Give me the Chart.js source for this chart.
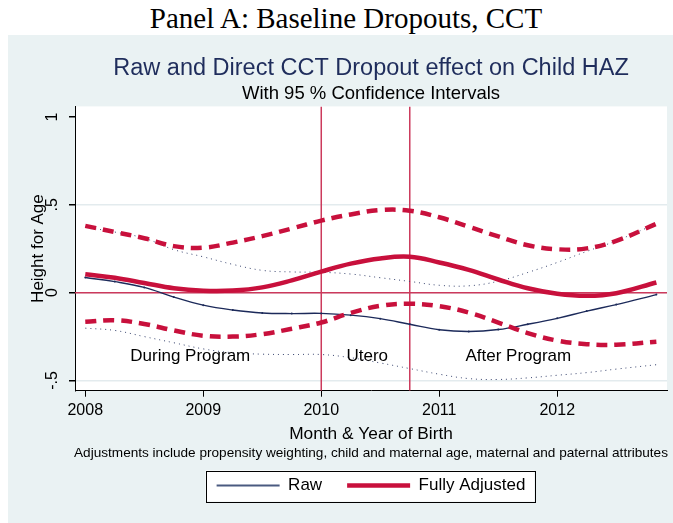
<!DOCTYPE html>
<html>
<head>
<meta charset="utf-8">
<script src="https://cdn.jsdelivr.net/npm/chart.js@4.4.1/dist/chart.umd.min.js"></script>
<style>
  html, body { margin: 0; padding: 0; background: #fff; overflow: hidden; width: 673px; height: 523px; }
  #panel { position: absolute; left: 0; top: 0; width: 692px; height: 35px; text-align: center;
           font-family: "Liberation Serif", "Times New Roman", serif; font-size: 29px; line-height: 36px; color: #000; }
  #bg { position: absolute; left: 8px; top: 35px; width: 665px; height: 488px; background: #eaf2f3; overflow: hidden; }
  #myChart { position: absolute; left: 0; top: 0; }
</style>
</head>
<body>
<div id="panel">Panel A: Baseline Dropouts, CCT</div>
<div id="bg"><canvas id="myChart" width="726" height="488"></canvas></div>
<script>
// month & year of birth (decimal years)
const birthDates = [2008, 2008.25, 2008.5, 2008.75, 2009, 2009.25, 2009.5, 2009.75, 2010, 2010.25,
                    2010.5, 2010.75, 2011, 2011.25, 2011.5, 2011.75, 2012, 2012.25, 2012.5, 2012.84];

const rawEffect = [0.086, 0.063, 0.03, -0.025, -0.071, -0.099, -0.116, -0.119, -0.118, -0.128,
                   -0.148, -0.18, -0.211, -0.221, -0.21, -0.18, -0.146, -0.105, -0.068, -0.011];
const rawUpper  = [0.373, 0.345, 0.31, 0.245, 0.204, 0.161, 0.127, 0.118, 0.116, 0.106,
                   0.085, 0.064, 0.042, 0.039, 0.065, 0.115, 0.172, 0.235, 0.295, 0.392];
const rawLower  = [-0.202, -0.215, -0.25, -0.285, -0.32, -0.342, -0.35, -0.352, -0.352, -0.37,
                   -0.4, -0.432, -0.464, -0.489, -0.494, -0.485, -0.47, -0.455, -0.435, -0.41];

const adjEffect = [0.105, 0.085, 0.055, 0.025, 0.011, 0.012, 0.03, 0.07, 0.12, 0.165,
                   0.195, 0.204, 0.172, 0.13, 0.075, 0.025, -0.006, -0.018, -0.003, 0.058];
const adjUpper  = [0.38, 0.345, 0.31, 0.265, 0.256, 0.285, 0.322, 0.365, 0.41, 0.445,
                   0.47, 0.466, 0.429, 0.375, 0.32, 0.27, 0.247, 0.252, 0.295, 0.392];
const adjLower  = [-0.166, -0.157, -0.178, -0.215, -0.245, -0.25, -0.236, -0.205, -0.17, -0.115,
                   -0.075, -0.063, -0.077, -0.113, -0.17, -0.23, -0.273, -0.293, -0.296, -0.279];

const xTicks = [2008, 2009, 2010, 2011, 2012];
const yTicks = [-0.5, 0, 0.5, 1];
const yTickLabels = ['-.5', '0', '.5', '1'];

// program start and end of utero window
const programLines = [2010, 2010.75];

const periodLabels = ['During Program', 'Utero', 'After Program'];
const periodX = [2008.89, 2010.39, 2011.67];
const periodY = -0.35;

const noteText = 'Adjustments include propensity weighting, child and maternal age, maternal and paternal attributes';

const xMin = 2007.913, xMax = 2012.93;
const yMin = -0.558, yMax = 1.06;

const FONT = '"Liberation Sans", Arial, Helvetica, sans-serif';
const RED = '#c8103c';
const REFRED = '#cc3a5c';
const NAVY = '#1c2a5a';

const pts = ys => birthDates.map((x, i) => ({ x: x, y: ys[i] }));

const datasets = [
  { label: 'Fully Adjusted', data: pts(adjEffect), borderColor: RED, borderWidth: 4.5 },
  { label: 'Adjusted upper', data: pts(adjUpper), borderColor: RED, borderWidth: 4.5, borderDash: [11, 7] },
  { label: 'Adjusted lower', data: pts(adjLower), borderColor: RED, borderWidth: 4.5, borderDash: [11, 7] },
  { label: 'Raw', data: pts(rawEffect), borderColor: NAVY, borderWidth: 1.4, pointRadius: 1, pointBackgroundColor: NAVY, pointBorderWidth: 0 },
  { label: 'Raw upper', data: pts(rawUpper), borderColor: '#3a4670', borderWidth: 1, borderDash: [1, 4] },
  { label: 'Raw lower', data: pts(rawLower), borderColor: '#3a4670', borderWidth: 1, borderDash: [1, 4] },
  { label: 'zero', data: [{ x: xMin, y: 0 }, { x: xMax, y: 0 }], borderColor: REFRED, borderWidth: 1.5, tension: 0 },
];
programLines.forEach(v => {
  datasets.push({ label: 'line ' + v, data: [{ x: v, y: yMin }, { x: v, y: yMax }], borderColor: REFRED, borderWidth: 1.5, tension: 0 });
});

const plotBg = {
  id: 'plotBg',
  beforeDraw(chart) {
    const { ctx, chartArea: a } = chart;
    ctx.save();
    ctx.fillStyle = '#fff';
    ctx.fillRect(a.left, a.top, a.right - a.left, a.bottom - a.top);
    // legend frame
    const hb = chart.legend.legendHitBoxes;
    if (hb && hb.length) {
      const l = Math.min(...hb.map(b => b.left)) - 11;
      const r = Math.max(...hb.map(b => b.left + b.width)) + 9;
      const cy = hb[0].top + hb[0].height / 2;
      ctx.fillRect(l, cy - 15, r - l, 31);
      ctx.strokeStyle = '#000';
      ctx.lineWidth = 1;
      ctx.strokeRect(Math.round(l) + 0.5, Math.round(cy - 15) + 0.5, Math.round(r - l), 31);
    }
    ctx.restore();
  }
};

const periodText = {
  id: 'periodText',
  afterDatasetsDraw(chart) {
    const { ctx, scales: { x, y } } = chart;
    ctx.save();
    ctx.font = '17px ' + FONT;
    ctx.fillStyle = '#000';
    ctx.textAlign = 'center';
    ctx.textBaseline = 'middle';
    periodLabels.forEach((t, i) => ctx.fillText(t, x.getPixelForValue(periodX[i]), y.getPixelForValue(periodY) + 2));
    ctx.restore();
  }
};

const ctx = document.getElementById('myChart');
const chart = new Chart(ctx, {
  type: 'line',
  data: { datasets: datasets },
  options: {
    responsive: false,
    animation: false,
    events: [],
    layout: { padding: { top: 19, bottom: 19, left: 0, right: 0 } },
    elements: {
      line: { tension: 0.4, fill: false },
      point: { radius: 0 }
    },
    scales: {
      x: {
        type: 'linear', min: xMin, max: xMax,
        afterBuildTicks: s => { s.ticks = xTicks.map(v => ({ value: v })); },
        ticks: { color: '#000', font: { size: 16, family: FONT }, padding: 4, maxRotation: 0, callback: v => String(v) },
        grid: { drawOnChartArea: false, tickLength: 6, tickColor: '#000' },
        border: { color: '#000', width: 1 },
        title: { display: true, text: 'Month & Year of Birth', color: '#000', font: { size: 17.3, family: FONT }, padding: { top: 0, bottom: 2 } }
      },
      y: {
        type: 'linear', min: yMin, max: yMax,
        afterBuildTicks: s => { s.ticks = yTicks.map(v => ({ value: v })); },
        afterFit: s => { s.width = 67; },
        ticks: { color: '#000', font: { size: 16, family: FONT }, minRotation: 90, maxRotation: 90, crossAlign: 'center', padding: 7,
                 callback: v => yTickLabels[yTicks.indexOf(v)] },
        grid: { color: c => (c.tick && c.tick.value === 1) ? 'rgba(0,0,0,0)' : '#e3ebee', lineWidth: 1.5, tickLength: 6, tickColor: '#000' },
        border: { color: '#000', width: 1 },
        title: { display: true, text: 'Height for Age', color: '#000', font: { size: 17, family: FONT }, padding: { top: 20, bottom: 0 } }
      },
      yRight: {
        position: 'right', display: true,
        afterFit: s => { s.width = 67; },
        grid: { display: false }, ticks: { display: false }, border: { display: false }
      }
    },
    plugins: {
      title: { display: true, text: 'Raw and Direct CCT Dropout effect on Child HAZ', color: '#1f2d5c',
               font: { size: 23.5, family: FONT, weight: 'normal' }, padding: { top: 0, bottom: 1 } },
      subtitle: { display: true, text: 'With 95 % Confidence Intervals', color: '#000',
                  font: { size: 18.5, family: FONT }, padding: { top: 0, bottom: 1 } },
      legend: {
        position: 'bottom',
        title: { display: true, text: noteText, color: '#000', font: { size: 13.6, family: FONT }, padding: { top: 0, bottom: -11 } },
        labels: {
          usePointStyle: true, pointStyleWidth: 63, padding: 25, color: '#000', font: { size: 17, family: FONT },
          generateLabels: c => [
            { text: c.data.datasets[3].label, strokeStyle: '#4a5a80', fillStyle: '#4a5a80', lineWidth: 2, pointStyle: 'line', hidden: false, datasetIndex: 3 },
            { text: c.data.datasets[0].label, strokeStyle: RED, fillStyle: RED, lineWidth: 4.5, pointStyle: 'line', hidden: false, datasetIndex: 0 }
          ]
        }
      },
      tooltip: { enabled: false }
    }
  },
  plugins: [plotBg, periodText]
});
</script>
</body>
</html>
